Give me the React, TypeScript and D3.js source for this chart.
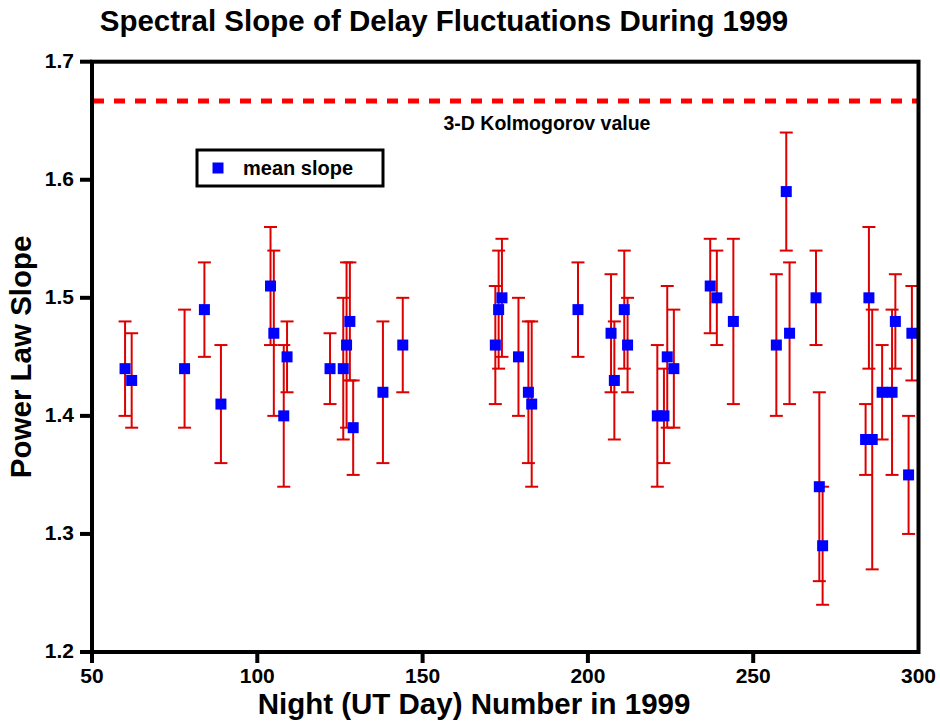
import React from "react";
import * as d3 from "d3";

const days = [60, 62, 78, 84, 89, 104, 105, 108, 109, 122, 126, 127, 128, 129, 138, 144, 172, 173, 174, 179, 182, 183, 197, 207, 208, 211, 212, 221, 223, 224, 226, 237, 239, 244, 257, 260, 261, 269, 270, 271, 284, 285, 286, 289, 292, 293, 297, 298];
const slopes = [1.44, 1.43, 1.44, 1.49, 1.41, 1.51, 1.47, 1.40, 1.45, 1.44, 1.44, 1.46, 1.48, 1.39, 1.42, 1.46, 1.46, 1.49, 1.50, 1.45, 1.42, 1.41, 1.49, 1.47, 1.43, 1.49, 1.46, 1.40, 1.40, 1.45, 1.44, 1.51, 1.50, 1.48, 1.46, 1.59, 1.47, 1.50, 1.34, 1.29, 1.38, 1.50, 1.38, 1.42, 1.42, 1.48, 1.35, 1.47];
const lowers = [1.40, 1.39, 1.39, 1.45, 1.36, 1.46, 1.40, 1.34, 1.42, 1.41, 1.38, 1.39, 1.43, 1.35, 1.36, 1.42, 1.41, 1.44, 1.45, 1.40, 1.36, 1.34, 1.45, 1.42, 1.38, 1.44, 1.42, 1.34, 1.36, 1.39, 1.39, 1.47, 1.46, 1.41, 1.40, 1.54, 1.41, 1.46, 1.26, 1.24, 1.35, 1.44, 1.27, 1.38, 1.35, 1.44, 1.30, 1.43];
const uppers = [1.48, 1.47, 1.49, 1.53, 1.46, 1.56, 1.54, 1.46, 1.48, 1.47, 1.50, 1.53, 1.53, 1.43, 1.48, 1.50, 1.51, 1.54, 1.55, 1.50, 1.48, 1.48, 1.53, 1.52, 1.48, 1.54, 1.50, 1.46, 1.44, 1.51, 1.49, 1.55, 1.54, 1.55, 1.52, 1.64, 1.53, 1.54, 1.42, 1.34, 1.41, 1.56, 1.49, 1.46, 1.49, 1.52, 1.40, 1.51];

const xTicks = [50, 100, 150, 200, 250, 300];
const yTicks = [1.2, 1.3, 1.4, 1.5, 1.6, 1.7];
const kolmogorov = 5 / 3;

const FONT = "'Liberation Sans', Arial, Helvetica, sans-serif";

export default function App() {
  const left = 92, right = 918.5, top = 61.7, bottom = 652;
  const x = d3.scaleLinear().domain([50, 300]).range([left, right]);
  const y = d3.scaleLinear().domain([1.2, 1.7]).range([bottom, top]);
  const cap = 6.5;
  const ms = 11;
  const fmt = d3.format(".1f");

  return (
    <svg width={940} height={725} style={{ position: "absolute", left: 0, top: 0, background: "#fff" }} fontFamily={FONT} fontWeight="bold">
      <rect x={0} y={0} width={940} height={725} fill="#fff" />
      <text x={444} y={31} textAnchor="middle" fontSize={29.5}>Spectral Slope of Delay Fluctuations During 1999</text>

      {/* Kolmogorov line */}
      <line x1={left} x2={right} y1={y(kolmogorov)} y2={y(kolmogorov)} stroke="#ff0000" strokeWidth={5} strokeDasharray="11 10" strokeDashoffset={-1} />
      <text x={547} y={130} textAnchor="middle" fontSize={19.5}>3-D Kolmogorov value</text>

      {/* error bars */}
      <g stroke="#dd0000" strokeWidth={2} fill="none">
        {days.map((d, i) => (
          <g key={i}>
            <line x1={x(d)} x2={x(d)} y1={y(lowers[i])} y2={y(uppers[i])} />
            <line x1={x(d) - cap} x2={x(d) + cap} y1={y(lowers[i])} y2={y(lowers[i])} />
            <line x1={x(d) - cap} x2={x(d) + cap} y1={y(uppers[i])} y2={y(uppers[i])} />
          </g>
        ))}
      </g>
      <g fill="#0000ff">
        {days.map((d, i) => (
          <rect key={i} x={x(d) - ms / 2} y={y(slopes[i]) - ms / 2} width={ms} height={ms} />
        ))}
      </g>

      {/* legend */}
      <rect x={197} y={150} width={186} height={36} fill="none" stroke="#000" strokeWidth={3} />
      <rect x={218 - ms / 2} y={168 - ms / 2} width={ms} height={ms} fill="#0000ff" />
      <text x={243} y={175} fontSize={20}>mean slope</text>

      {/* frame */}
      <rect x={left} y={top} width={right - left} height={bottom - top} fill="none" stroke="#000" strokeWidth={4} />

      {/* y ticks */}
      {yTicks.map((t) => (
        <g key={t}>
          <line x1={80} x2={left} y1={y(t)} y2={y(t)} stroke="#000" strokeWidth={4} />
          <text x={74} y={y(t) + 6} textAnchor="end" fontSize={21}>{fmt(t)}</text>
        </g>
      ))}
      {/* x ticks */}
      {xTicks.map((t) => (
        <g key={t}>
          {t < 300 && <line x1={x(t)} x2={x(t)} y1={bottom} y2={bottom + 11} stroke="#000" strokeWidth={4} />}
          <text x={x(t)} y={683} textAnchor="middle" fontSize={21}>{t}</text>
        </g>
      ))}

      <text x={474} y={714} textAnchor="middle" fontSize={29.5}>Night (UT Day) Number in 1999</text>
      <text transform={`translate(31, ${(top + bottom) / 2}) rotate(-90)`} textAnchor="middle" fontSize={29.5}>Power Law Slope</text>
    </svg>
  );
}
